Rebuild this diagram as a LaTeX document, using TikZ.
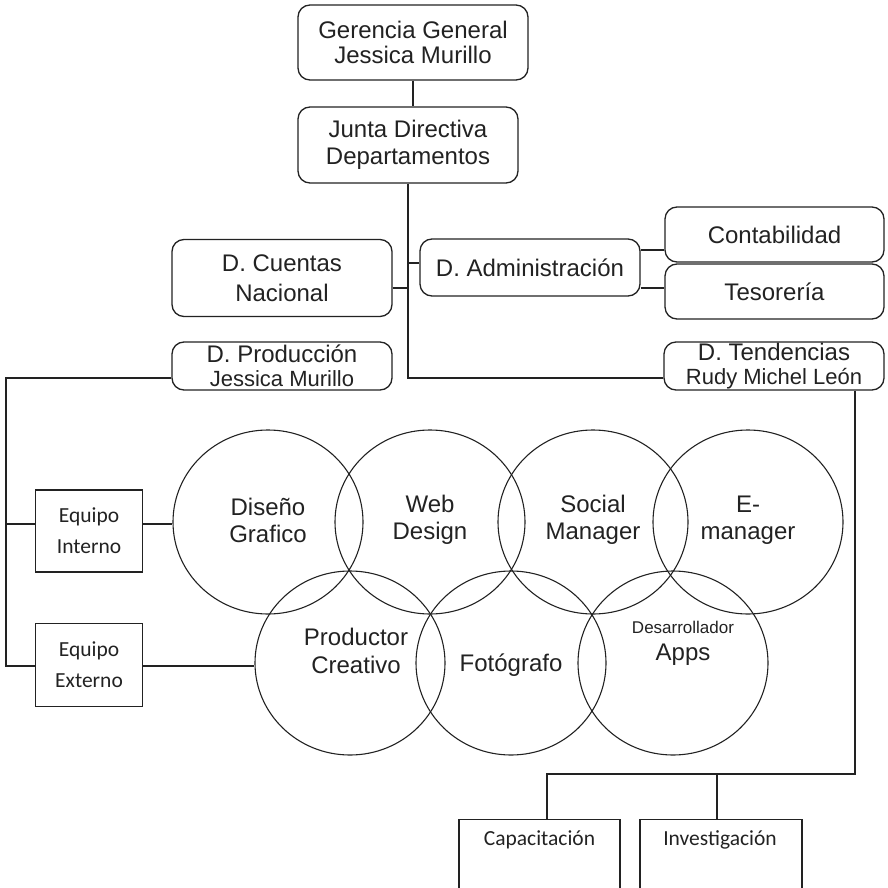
\documentclass[tikz,border=0pt]{standalone}
\usepackage{fontspec}
\setmainfont{Liberation Sans}
\newfontfamily\calfont{Carlito}
\usetikzlibrary{shapes.geometric}
\definecolor{ink}{HTML}{222222}
\begin{document}
\begin{tikzpicture}[x=1pt,y=-1pt,
  rbox/.style={rectangle, rounded corners=12pt, draw=ink, line width=1.3pt, inner sep=0pt, align=center, text=ink,
    font=\fontsize{24}{25}\selectfont},
  sqbox/.style={draw=ink, line width=1.3pt, inner sep=0pt, align=center, text=ink,
    font=\calfont\fontsize{21.5}{31}\selectfont},
  circ/.style={ellipse, draw=ink, line width=1.1pt, inner sep=0pt, minimum width=190pt, minimum height=184pt},
  ctext/.style={align=center, inner sep=0pt, text=ink, font=\fontsize{24}{27}\selectfont},
  conn/.style={draw=ink, line width=1.3pt}]
\useasboundingbox (0,0) rectangle (887,888);
\clip (0,0) rectangle (887,888);

% top boxes
\node[rbox, minimum width=230pt, minimum height=75pt] (ger) at (413,42.5) {Gerencia General\\Jessica Murillo};
\node[rbox, minimum width=220pt, minimum height=76pt, font=\fontsize{24}{27}\selectfont] (jun) at (408,145) {Junta Directiva\\Departamentos};
\node[rbox, minimum width=220pt, minimum height=77pt, font=\fontsize{24}{30}\selectfont] (cue) at (282,278) {D. Cuentas\\Nacional};
\node[rbox, minimum width=220pt, minimum height=57pt] (adm) at (530,267.5) {D. Administración};
\node[rbox, minimum width=219pt, minimum height=55pt] (con) at (774.5,234.5) {Contabilidad};
\node[rbox, minimum width=219pt, minimum height=55pt] (tes) at (774.5,291.5) {Tesorería};
\node[rbox, minimum width=220pt, minimum height=48pt, font=\fontsize{24}{24}\selectfont] (pro) at (282,366) {D. Producción\\{\fontsize{22}{24}\selectfont Jessica Murillo}};
\node[rbox, minimum width=220pt, minimum height=48pt, font=\fontsize{24}{24}\selectfont] (ten) at (774,366) {D. Tendencias\\{\fontsize{22}{24}\selectfont Rudy Michel León}};

% equipo boxes
\node[sqbox, minimum width=107pt, minimum height=82pt] (int) at (89,531) {Equipo\\Interno};
\node[sqbox, minimum width=107pt, minimum height=83pt] (ext) at (89,665) {Equipo\\Externo};

% circles
\node[circ] (dg) at (268,522) {};
\node[circ] (wd) at (430,522) {};
\node[circ] (sm) at (593,522) {};
\node[circ] (em) at (748,522) {};
\node[circ] (pc) at (350,663) {};
\node[circ] (fo) at (511,663) {};
\node[circ] (da) at (673,663) {};
\node[ctext] (tdg) at (268,520) {Diseño\\Grafico};
\node[ctext] (twd) at (430,520) {Web\\Design};
\node[ctext] (tsm) at (593,520) {Social\\Manager};
\node[ctext] (tem) at (748,520) {E-\\manager};
\node[ctext, font=\fontsize{24}{28}\selectfont] (tpc) at (356,651) {Productor\\Creativo};
\node[ctext] (tfo) at (511,665) {Fotógrafo};
\node[ctext, font=\fontsize{17}{27}\selectfont] (tda) at (683,643) {Desarrollador\\{\fontsize{24}{27}\selectfont Apps}};

% bottom boxes
\node[sqbox, minimum width=161pt, minimum height=100pt, anchor=north] (cap) at (539.5,819) {};
\node[sqbox, minimum width=162pt, minimum height=100pt, anchor=north] (inv) at (721,819) {};
\node[sqbox, draw=none] (tcap) at (539.5,840) {Capacitación};
\node[sqbox, draw=none] (tinv) at (720,840) {Investigación};

% connectors
\draw[conn] (ger.south) -- (ger.south |- jun.north);
\coordinate (tj) at (408,378);
\draw[conn] (jun.south) -- (jun.south |- tj) -- (tj -| ten.west);
\coordinate (ca) at (0,288);
\draw[conn] (cue.east |- ca) -- (jun.south |- ca);
\coordinate (aa) at (0,263);
\draw[conn] (jun.south |- aa) -- (adm.west |- aa);
\coordinate (ac) at (0,250);
\draw[conn] (adm.east |- ac) -- (con.west |- ac);
\coordinate (at) at (0,288);
\draw[conn] (adm.east |- at) -- (tes.west |- at);
\coordinate (lp) at (6,378);
\coordinate (li) at (6,524);
\coordinate (le) at (6,666);
\draw[conn] (pro.west |- lp) -- (lp) -- (le) -- (le -| ext.west);
\draw[conn] (li) -- (li -| int.west);
\draw[conn] (int.east |- li) -- (li -| dg.west);
\draw[conn] (ext.east |- le) -- (le -| pc.west);
\coordinate (tr) at (855,774);
\coordinate (bc) at (547,774);
\coordinate (bi) at (717,774);
\draw[conn] (tr |- ten.south) -- (tr) -- (bc) -- (bc |- cap.north);
\draw[conn] (bi) -- (bi |- inv.north);
\end{tikzpicture}
\end{document}
